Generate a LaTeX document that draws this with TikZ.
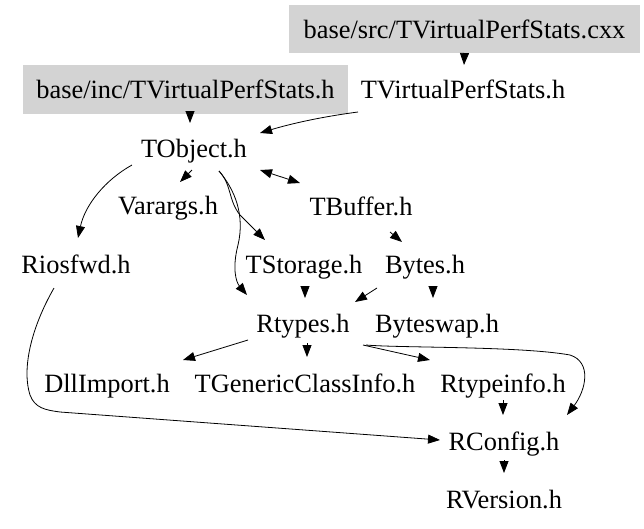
\documentclass[tikz,border=0pt]{standalone}
\usepackage{fontspec}
\setmainfont{Liberation Serif}
\usetikzlibrary{arrows.meta,calc}
\begin{document}
\begin{tikzpicture}[x=1pt,y=-1pt,
  lbl/.style={inner sep=0pt,text height=19pt,text depth=1pt,font=\fontsize{26.4}{30}\selectfont},
  filebox/.style={lbl,fill={rgb,255:red,211;green,211;blue,211}},
  dep/.style={line width=0.8pt,-{Triangle[length=12pt,width=9pt]}},
  bidep/.style={line width=0.8pt,{Triangle[length=12pt,width=9pt]}-{Triangle[length=12pt,width=9pt]}}]
\path[use as bounding box] (0,0) rectangle (644,528);
\node[filebox,minimum width=351pt,minimum height=48pt] (src) at (464.5,29) {base/src/TVirtualPerfStats.cxx};
\node[filebox,minimum width=325pt,minimum height=49pt] (inc) at (185.5,89) {base/inc/TVirtualPerfStats.h};
\node[lbl] (tvh) at (463,89) {TVirtualPerfStats.h};
\node[lbl] (TObject) at (194,148) {TObject.h};
\node[lbl] (Varargs) at (168,205) {Varargs.h};
\node[lbl] (TBuffer) at (361,206) {TBuffer.h};
\node[lbl] (Riosfwd) at (76,264) {Riosfwd.h};
\node[lbl] (TStorage) at (304,264) {TStorage.h};
\node[lbl] (Bytes) at (425,264) {Bytes.h};
\node[lbl] (Rtypes) at (303,323) {Rtypes.h};
\node[lbl] (Byteswap) at (437,323) {Byteswap.h};
\node[lbl] (DllImport) at (107,383) {DllImport.h};
\node[lbl] (TGeneric) at (305,383) {TGenericClassInfo.h};
\node[lbl] (Rtypeinfo) at (503,383) {Rtypeinfo.h};
\node[lbl] (RConfig) at (504,441) {RConfig.h};
\node[lbl] (RVersion) at (504,499) {RVersion.h};

\draw[dep] (src.south) -- ($(tvh.center)+(1,-24)$);
\draw[dep] ($(inc.south)+(4.5,0)$) -- ($(TObject.center)+(-4,-25)$);
\draw[dep] ($(tvh.center)+(-105,23)$) .. controls (320,117) and (290,124) .. ($(TObject.center)+(66,-15)$);
\draw[dep] ($(TObject.center)+(-62,17)$) .. controls (105,180) and (85,205) .. ($(Riosfwd.center)+(2,-26)$);
\draw[dep] ($(TObject.center)+(-2,22)$) -- ($(Varargs.center)+(12,-23)$);
\draw[dep] ($(TObject.center)+(25,23)$) .. controls (232,185) and (228,200) .. (240,215) -- ($(TStorage.center)+(-39,-24)$);
\draw[dep] ($(TObject.center)+(25,23)$) .. controls (235,190) and (245,215) .. (238,245) .. controls (232,268) and (236,282) .. ($(Rtypes.center)+(-56,-28)$);
\draw[bidep] ($(TObject.center)+(66,22)$) -- ($(TBuffer.center)+(-61,-23)$);
\draw[dep] ($(TBuffer.center)+(29,26)$) -- ($(Bytes.center)+(-23,-22)$);
\draw[dep] ($(TStorage.center)+(1,23)$) -- ($(Rtypes.center)+(2,-25)$);
\draw[dep] ($(Bytes.center)+(-48,24)$) -- ($(Rtypes.center)+(52,-21)$);
\draw[dep] ($(Bytes.center)+(8,24)$) -- ($(Byteswap.center)+(-4,-25)$);
\draw[dep] ($(Rtypes.center)+(-55,17)$) -- ($(DllImport.center)+(76,-23)$);
\draw[dep] ($(Rtypes.center)+(4,20)$) -- ($(TGeneric.center)+(2,-26)$);
\draw[dep] ($(Rtypes.center)+(60,22)$) -- ($(Rtypeinfo.center)+(-73,-23)$);
\draw[dep] ($(Rtypes.center)+(63,22)$) .. controls (400,348) and (520,346) .. (570,355) .. controls (592,362) and (586,390) .. ($(RConfig.center)+(63,-26)$);
\draw[dep] ($(Rtypeinfo.center)+(0,17)$) -- ($(RConfig.center)+(-1,-26)$);
\draw[dep] ($(RConfig.center)+(0,19)$) -- ($(RVersion.center)+(0,-26)$);
\draw[dep] ($(Riosfwd.center)+(-22,24)$) .. controls (30,330) and (22,370) .. (30,395) .. controls (35,408) and (45,410) .. (60,412) -- ($(RConfig.center)+(-64,-1)$);
\end{tikzpicture}
\end{document}
